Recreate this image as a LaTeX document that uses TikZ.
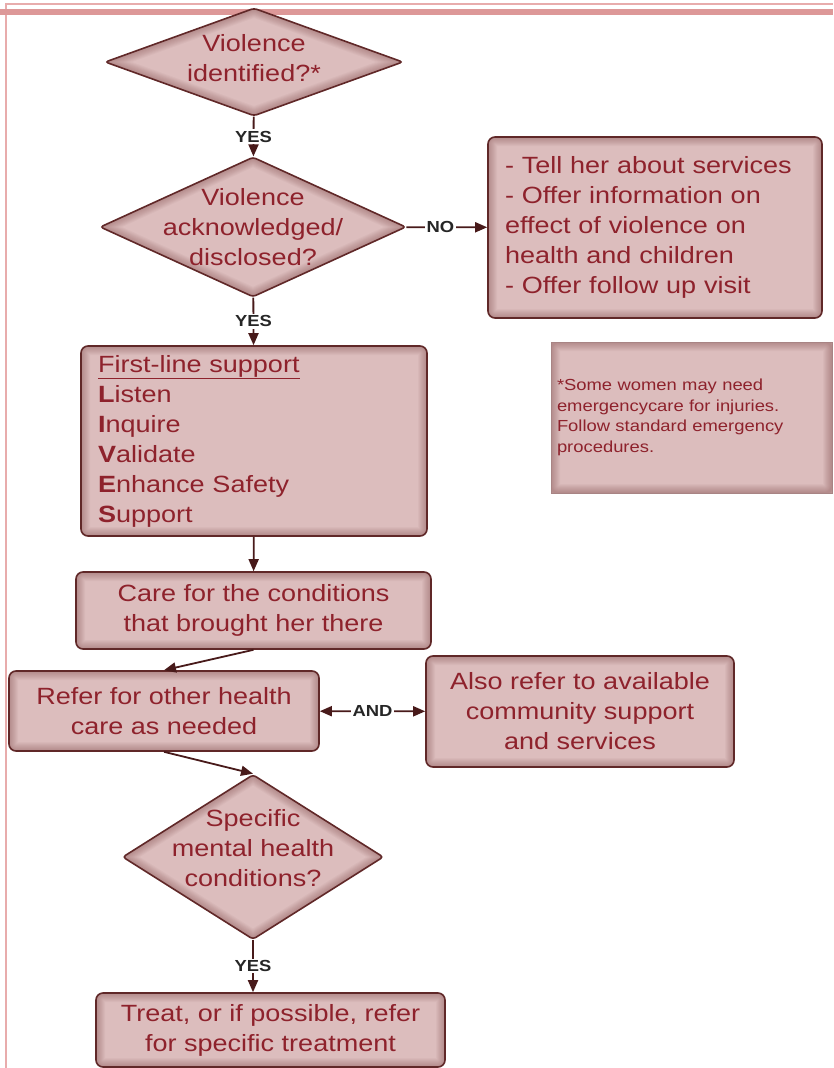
\documentclass[tikz,border=0pt]{standalone}
\usepackage{fontspec}
\setmainfont{Liberation Sans}[FakeStretch=1.15]
\usepackage{tikz}
\usetikzlibrary{shapes.geometric,arrows.meta}

\definecolor{boxfill}{RGB}{220,189,189}
\definecolor{edgec}{RGB}{96,40,40}
\definecolor{inkc}{RGB}{142,34,44}
\definecolor{arrowc}{RGB}{72,26,26}
\definecolor{bandc}{RGB}{221,152,152}
\definecolor{linec}{RGB}{232,172,172}
\definecolor{glowc}{RGB}{110,50,50}

\begin{document}
\begin{tikzpicture}[x=1pt,y=-1pt,
    bigtext/.style={font=\fontsize{23.5}{30}\selectfont, text=inkc},
    boxglow/.style={path picture={
        \foreach \w in {2,4,...,18}
            \draw[glowc, line width=\w pt, opacity=0.045, rounded corners=7pt]
                (path picture bounding box.south west) rectangle (path picture bounding box.north east);
    }},
    diaglow/.style={path picture={
        \foreach \w in {2,4,...,18}
            \draw[glowc, line width=\w pt, opacity=0.045, line join=round]
                (path picture bounding box.north) -- (path picture bounding box.east)
                -- (path picture bounding box.south) -- (path picture bounding box.west) -- cycle;
    }},
    box/.style={draw=edgec, line width=1.6pt, fill=boxfill, rounded corners=7pt,
        bigtext, align=center, inner sep=0pt, boxglow},
    listbox/.style={box, align=left, inner xsep=17pt},
    decision/.style={shape=diamond, draw=edgec, line width=1.6pt, fill=boxfill,
        inner sep=0pt, rounded corners=3pt, diaglow},
    qtext/.style={bigtext, align=center, inner sep=0pt},
    notebox/.style={draw=glowc!60, line width=1pt, fill=boxfill, boxglow,
        font=\fontsize{16}{20.5}\selectfont, text=inkc, align=left,
        inner xsep=6pt, inner ysep=0pt},
    flow/.style={draw=arrowc, line width=1.8pt, -{Triangle[length=12pt,width=10pt]}},
    both/.style={draw=arrowc, line width=1.8pt, {Triangle[length=12pt,width=10pt]}-{Triangle[length=12pt,width=10pt]}},
    lbl/.style={font=\fontsize{16}{16}\selectfont\bfseries, text=black!85, fill=white, inner sep=1.5pt}]

\useasboundingbox (0,0) rectangle (833,1068);

% page frame
\draw[linec, line width=1.8pt] (6,1068) -- (6,4) -- (833,4);
\fill[bandc] (0,9) rectangle (833,15);

% questions
\node[decision, minimum width=298pt, minimum height=108pt] (d1) at (254,62) {};
\node[qtext, yshift=4pt] (d1t) at (d1) {Violence\\identified?*};
\node[decision, minimum width=306pt, minimum height=140pt] (d2) at (253,227) {};
\node[qtext] (d2t) at (d2) {Violence\\acknowledged/\\disclosed?};
\node[decision, minimum width=261pt, minimum height=165pt] (d3) at (253,857) {};
\node[qtext, yshift=9pt] (d3t) at (d3) {Specific\\mental health\\conditions?};

% boxes
\node[listbox, text width=300pt, minimum height=181pt] (tell) at (655,227.5)
    {- Tell her about services\\- Offer information on\\effect of violence on\\health and children\\- Offer follow up visit};
\node[listbox, text width=312pt, minimum height=190pt] (lives) at (254,441)
    {\underline{First-line support}\\\textbf{L}isten\\\textbf{I}nquire\\\textbf{V}alidate\\\textbf{E}nhance Safety\\\textbf{S}upport};
\node[notebox, text width=269pt, minimum height=151pt] (note) at (691.5,417.5)
    {*Some women may need\\emergencycare for injuries.\\Follow standard emergency\\procedures.};
\node[box, minimum width=355pt, minimum height=77pt] (care) at (253.5,610.5)
    {Care for the conditions\\that brought her there};
\node[box, minimum width=310pt, minimum height=80pt] (refer) at (164,711)
    {Refer for other health\\care as needed};
\node[box, minimum width=308pt, minimum height=111pt] (comm) at (580,711.5)
    {Also refer to available\\community support\\and services};
\node[box, minimum width=349pt, minimum height=74pt] (treat) at (270.5,1030)
    {Treat, or if possible, refer\\for specific treatment};

% connectors
\draw[flow] (d1) -- node[lbl] {YES} (d2);
\draw[flow] (d2) -- node[lbl, pos=0.42] {NO} (tell);
\draw[flow] (d2) -- node[lbl] {YES} (lives);
\draw[flow] (lives) -- (care);
\draw[flow] (care.south) -- (refer.north);
\draw[both] (refer) -- node[lbl] {AND} (comm);
\draw[flow] (refer.south) -- (d3.north);
\draw[flow] (d3.south) -- node[lbl] {YES} (treat.north -| d3.south);
\end{tikzpicture}
\end{document}
